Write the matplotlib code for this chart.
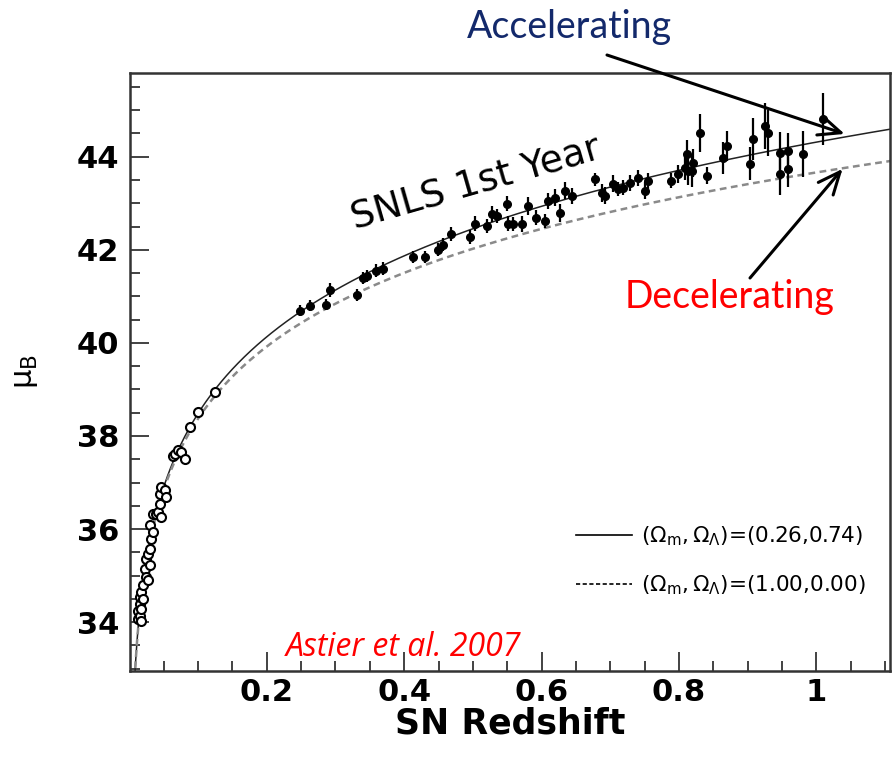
import numpy as np
import matplotlib
matplotlib.use('Agg')
import matplotlib.pyplot as plt
from matplotlib.lines import Line2D
from matplotlib.ticker import MultipleLocator

# nearby supernovae (open circles)
z_near = [0.0128, 0.0128, 0.0153, 0.0153, 0.0153, 0.0176, 0.0176, 0.0176, 0.0201, 0.0201,
          0.0225, 0.0249, 0.0249, 0.0273, 0.0273, 0.0298, 0.0298, 0.0298, 0.0321, 0.0346,
          0.0346, 0.0394, 0.0419, 0.0444, 0.0444, 0.0467, 0.0467, 0.0516, 0.0540, 0.0637,
          0.0662, 0.0710, 0.0753, 0.0807, 0.0880, 0.1001, 0.1244]
mu_near = [34.07, 34.25, 34.14, 34.40, 34.54, 34.03, 34.29, 34.65, 34.50, 34.79,
           35.15, 34.97, 35.36, 34.90, 35.47, 35.22, 35.58, 36.08, 35.79, 35.93,
           36.33, 36.33, 36.36, 36.54, 36.76, 36.26, 36.90, 36.83, 36.68, 37.58,
           37.62, 37.69, 37.65, 37.51, 38.19, 38.51, 38.94]
err_near = [0.10] * len(z_near)

# SNLS first year (filled points)
z_snls = [0.248, 0.263, 0.286, 0.292, 0.331, 0.340, 0.346, 0.359, 0.369, 0.413,
          0.430, 0.449, 0.456, 0.468, 0.496, 0.503, 0.520, 0.528, 0.535, 0.550,
          0.551, 0.558, 0.571, 0.580, 0.592, 0.605, 0.609, 0.619, 0.627, 0.634,
          0.644, 0.678, 0.688, 0.692, 0.704, 0.711, 0.718, 0.728, 0.740, 0.750,
          0.755, 0.789, 0.798, 0.808, 0.811, 0.813, 0.819, 0.820, 0.830, 0.840,
          0.864, 0.870, 0.903, 0.907, 0.925, 0.929, 0.947, 0.947, 0.958, 0.958,
          0.980, 1.009]
mu_snls = [40.69, 40.80, 40.82, 41.14, 41.03, 41.40, 41.44, 41.55, 41.59, 41.85,
           41.85, 42.00, 42.11, 42.34, 42.28, 42.56, 42.52, 42.77, 42.73, 42.99,
           42.56, 42.56, 42.56, 42.94, 42.69, 42.62, 43.05, 43.12, 42.79, 43.27,
           43.16, 43.52, 43.22, 43.16, 43.42, 43.31, 43.33, 43.44, 43.55, 43.27,
           43.48, 43.48, 43.63, 43.76, 44.06, 43.70, 43.70, 43.87, 44.51, 43.59,
           43.97, 44.23, 43.85, 44.38, 44.66, 44.51, 44.08, 43.63, 44.12, 43.74,
           44.06, 44.81]
err_snls = [0.12, 0.12, 0.12, 0.15, 0.12, 0.13, 0.13, 0.14, 0.14, 0.13,
            0.13, 0.14, 0.14, 0.15, 0.15, 0.16, 0.15, 0.18, 0.15, 0.16,
            0.16, 0.15, 0.17, 0.20, 0.16, 0.16, 0.17, 0.18, 0.20, 0.18,
            0.17, 0.14, 0.20, 0.18, 0.18, 0.15, 0.16, 0.17, 0.17, 0.18,
            0.18, 0.16, 0.20, 0.25, 0.30, 0.30, 0.35, 0.30, 0.40, 0.18,
            0.35, 0.33, 0.35, 0.45, 0.50, 0.50, 0.45, 0.45, 0.40, 0.40,
            0.50, 0.55]

# cosmologies (flat), H0 in km/s/Mpc
omega_m = [0.26, 1.00]
omega_l = [0.74, 0.00]
h0 = 65.0
model_labels = [r'$(\Omega_{\rm m},\Omega_{\Lambda})$=(0.26,0.74)',
                r'$(\Omega_{\rm m},\Omega_{\Lambda})$=(1.00,0.00)']

x_ticks = [0.2, 0.4, 0.6, 0.8, 1.0]
x_ticklabels = ['0.2', '0.4', '0.6', '0.8', '1']
y_ticks = [34, 36, 38, 40, 42, 44]

fig = plt.figure(figsize=(8.94, 7.57), dpi=100)
ax = fig.add_axes([0.1454, 0.1136, 0.8501, 0.790])

# distance modulus curves
zz = np.linspace(0, 1.12, 3000)
styles = [dict(color='#222222', lw=1.1, ls='-'),
          dict(color='#8a8a8a', lw=1.8, ls=(0, (2.7, 1.8)))]
for om, ol, st in zip(omega_m, omega_l, styles):
    E = np.sqrt(om * (1 + zz) ** 3 + ol)
    dc = np.concatenate([[0], np.cumsum(0.5 * (1 / E[1:] + 1 / E[:-1]) * np.diff(zz))])
    dl = (1 + zz[1:]) * dc[1:] * 299792.458 / h0
    ax.plot(zz[1:], 5 * np.log10(dl) + 25, zorder=2, **st)

ax.errorbar(z_near, mu_near, yerr=err_near, fmt='o', ms=6.5, mfc='white', mec='black',
            mew=1.5, ecolor='black', elinewidth=1.2, capsize=0, zorder=3)
ax.errorbar(z_snls, mu_snls, yerr=err_snls, fmt='o', ms=5.5, color='black',
            ecolor='black', elinewidth=1.6, capsize=0, zorder=4)

ax.set_xlim(0.001, 1.107)
ax.set_ylim(32.95, 45.8)
ax.set_xticks(x_ticks)
ax.set_xticklabels(x_ticklabels)
ax.set_yticks(y_ticks)
ax.xaxis.set_minor_locator(MultipleLocator(0.05))
ax.yaxis.set_minor_locator(MultipleLocator(0.5))
ax.tick_params(which='both', direction='in', top=False, right=False, width=1.2, color='#222222')
ax.tick_params(which='major', length=14, labelsize=22)
ax.tick_params(axis='x', which='major', pad=5)
ax.tick_params(axis='y', which='major', pad=8)
ax.tick_params(which='minor', length=7.5)
for lab in ax.get_xticklabels() + ax.get_yticklabels():
    lab.set_fontweight('bold')
for sp in ax.spines.values():
    sp.set_linewidth(1.8)
    sp.set_color('#333333')

ax.set_xlabel('SN Redshift', fontsize=25, fontweight='bold', labelpad=0)
ax.set_ylabel('μ$_{\\rm B}$', fontsize=22, labelpad=26)

ax.text(0.504, 43.40, 'SNLS 1st Year', fontsize=27, rotation=16, rotation_mode='anchor',
        ha='center', va='center')

handles = [Line2D([], [], color='black', lw=1.2),
           Line2D([], [], color='black', lw=1.2, ls=(0, (2.5, 1.5)))]
ax.legend(handles, model_labels, loc='lower right', bbox_to_anchor=(0.982, 0.105),
          frameon=False, fontsize=15.5, handlelength=2.6, handletextpad=0.4,
          labelspacing=1.2, borderpad=0)

fig.text(569 / 894, 1 - 27 / 757, 'Accelerating', fontsize=27, family='Lato',
         color='#13296b', ha='center', va='center')
fig.text(730 / 894, 1 - 297 / 757, 'Decelerating', fontsize=27, family='Lato',
         color='#ff0000', ha='center', va='center')
fig.text(403 / 894, 1 - 648 / 757, 'Astier et al. 2007', fontsize=23, family='Open Sans',
         style='italic', color='#ff0000', ha='center', va='center')

arrow = dict(arrowstyle='->, head_length=1.6, head_width=0.7', lw=2.2, color='black',
             shrinkA=0, shrinkB=0)
ax.annotate('', xy=(1.041, 44.49), xytext=(607, 757 - 55), textcoords='figure pixels',
            arrowprops=arrow, annotation_clip=False)
ax.annotate('', xy=(1.038, 43.74), xytext=(750, 757 - 278), textcoords='figure pixels',
            arrowprops=arrow, annotation_clip=False)

fig.savefig('out.png', dpi=100)
